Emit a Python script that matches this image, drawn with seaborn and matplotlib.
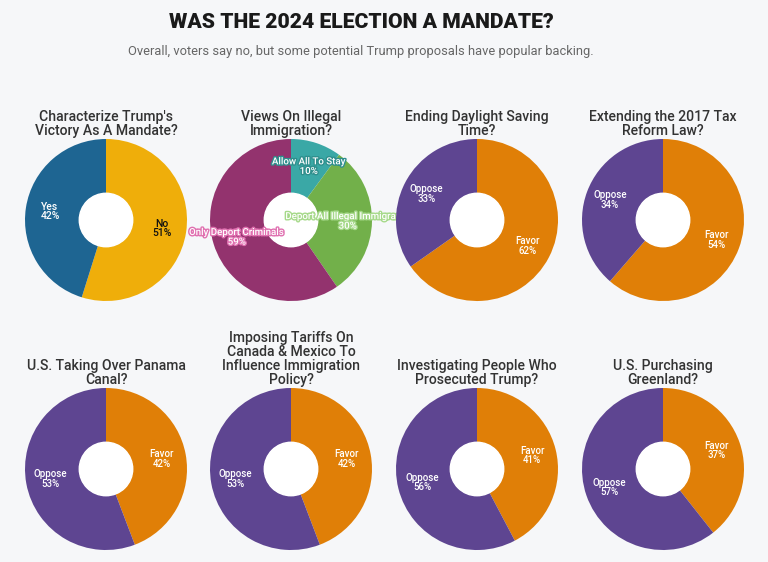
import matplotlib
matplotlib.use("Agg")
import matplotlib.pyplot as plt
import matplotlib.patheffects as pe
import numpy as np
import seaborn as sns

sns.set_theme(style="white")
plt.rcParams['font.family'] = ['Roboto', 'DejaVu Sans']

# chart data
titles = [
    "Characterize Trump's\nVictory As A Mandate?",
    "Views On Illegal\nImmigration?",
    "Ending Daylight Saving\nTime?",
    "Extending the 2017 Tax\nReform Law?",
    "U.S. Taking Over Panama\nCanal?",
    "Imposing Tariffs On\nCanada & Mexico To\nInfluence Immigration\nPolicy?",
    "Investigating People Who\nProsecuted Trump?",
    "U.S. Purchasing\nGreenland?",
]
labels = [
    ["No", "Yes"],
    ["Allow All To Stay", "Deport All Illegal Immigrants", "Only Deport Criminals"],
    ["Favor", "Oppose"],
    ["Favor", "Oppose"],
    ["Favor", "Oppose"],
    ["Favor", "Oppose"],
    ["Favor", "Oppose"],
    ["Favor", "Oppose"],
]
values = [
    [51, 42],
    [10, 30, 59],
    [62, 33],
    [54, 34],
    [42, 53],
    [42, 53],
    [41, 56],
    [37, 57],
]

fav_opp = ["#e07f07", "#5e4591"]
colors = [
    ["#efae0a", "#1e6592"],
    ["#3aa8a6", "#72b04a", "#93336e"],
] + [fav_opp] * 6
text_colors = [["#111111", "white"], ["white"] * 3] + [["white", "white"]] * 6
outline = [[None, None], ["#2f8f8d", "#a6d98a", "#e070b0"]] + [[None, None]] * 6

bg = "#f6f7f9"
W, H = 768, 562
col_x = [106, 291, 477, 663]
row_y = [220, 469]
R = 81

fig = plt.figure(figsize=(W / 100, H / 100), dpi=100, facecolor=bg)

fig.text(361 / W, 1 - 22 / H, "WAS THE 2024 ELECTION A MANDATE?",
         ha="center", va="center", fontsize=15.2, fontweight="black", color="#1a1a1a")
fig.text(361 / W, 1 - 52 / H,
         "Overall, voters say no, but some potential Trump proposals have popular backing.",
         ha="center", va="center", fontsize=9.3, color="#666666")

for i in range(len(values)):
    cx, cy = col_x[i % 4], row_y[i // 4]
    ax = fig.add_axes([(cx - R) / W, 1 - (cy + R) / H, 2 * R / W, 2 * R / H])
    ax.set_facecolor(bg)
    wedges, _ = ax.pie(values[i], colors=colors[i], startangle=90, counterclock=False,
                       wedgeprops=dict(width=0.67, linewidth=0))
    # white hole in the middle
    ax.add_patch(plt.Circle((0, 0), 0.33, color="white", zorder=3))
    ax.set_xlim(-1, 1)
    ax.set_ylim(-1, 1)
    ax.axis("off")

    for w, lab, v, tc, oc in zip(wedges, labels[i], values[i], text_colors[i], outline[i]):
        ang = np.deg2rad((w.theta1 + w.theta2) / 2)
        fs = 7.5 if i == 0 else 7
        t = ax.text(0.70 * np.cos(ang), 0.70 * np.sin(ang), f"{lab}\n{v}%",
                    ha="center", va="center", fontsize=fs, color=tc,
                    fontweight="medium", linespacing=0.95, zorder=4)
        if oc:
            t.set_path_effects([pe.withStroke(linewidth=2, foreground=oc)])

    ax.set_title(titles[i], fontsize=10.1, color="#333333", pad=3,
                 linespacing=1.0, fontweight="medium")

fig.savefig("out.png", dpi=100, facecolor=bg)
